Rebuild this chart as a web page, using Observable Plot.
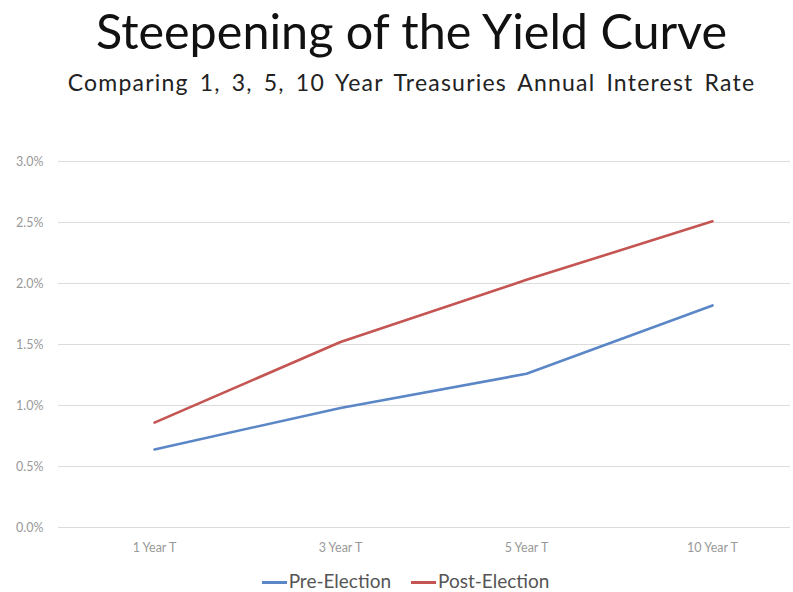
<!DOCTYPE html>
<html>
<head>
<meta charset="utf-8">
<script src="https://cdn.jsdelivr.net/npm/d3@7"></script>
<script src="https://cdn.jsdelivr.net/npm/@observablehq/plot@0.6"></script>
<style>
  html, body { margin: 0; padding: 0; background: #fff; }
  body { width: 793px; height: 592px; overflow: hidden; font-family: Lato, "Open Sans", sans-serif; }
  #title { position: absolute; left: 15px; top: 2px; width: 793px; text-align: center; font-size: 48.5px; color: #111; line-height: 56px; }
  #subtitle { position: absolute; left: 15px; top: 68px; width: 793px; text-align: center; font-size: 23px; color: #222; line-height: 28px; letter-spacing: 1.2px; word-spacing: 4px; }
  #chart { position: absolute; left: 0; top: 120px; }
  #legend { position: absolute; left: 18px; top: 571px; width: 775px; text-align: center; font-size: 19px; color: #555; line-height: 20px; height: 20px; }
  .item { display: inline-block; margin: 0 10px; }
  .sw { display: inline-block; width: 25px; height: 3px; vertical-align: middle; margin-right: 2px; position: relative; top: -1px; }
</style>
</head>
<body>
<div id="title">Steepening of the Yield Curve</div>
<div id="subtitle">Comparing 1, 3, 5, 10 Year Treasuries Annual Interest Rate</div>
<div id="chart"></div>
<div id="legend"></div>
<script>
const categories = ["1 Year T", "3 Year T", "5 Year T", "10 Year T"];
const seriesNames = ["Pre-Election", "Post-Election"];
const preElection = [0.64, 0.98, 1.26, 1.82];
const postElection = [0.86, 1.52, 2.03, 2.51];
const yTicks = [0, 0.5, 1.0, 1.5, 2.0, 2.5, 3.0];
const colors = ["#5b87c7", "#c45552"];

const rows = [];
categories.forEach((c, i) => {
  rows.push({cat: c, series: seriesNames[0], value: preElection[i]});
  rows.push({cat: c, series: seriesNames[1], value: postElection[i]});
});

const chart = Plot.plot({
  width: 793,
  height: 447,
  marginTop: 41,
  marginBottom: 40,
  marginLeft: 58,
  marginRight: 3,
  style: { fontFamily: "Lato, 'Open Sans', sans-serif", fontSize: "12.5px", color: "#999", background: "transparent" },
  x: { type: "point", domain: categories, range: [153, 712], padding: 0, label: null },
  y: { domain: [0, 3], label: null },
  color: { domain: seriesNames, range: colors },
  marks: [
    Plot.ruleY(yTicks, { stroke: "#dcdcdc", strokeWidth: 1.2 }),
    Plot.axisX({ tickSize: 0, tickPadding: 16, fill: "#999" }),
    Plot.axisY({ ticks: yTicks, tickFormat: d => d.toFixed(1) + "%", tickSize: 0, tickPadding: 15, fill: "#999" }),
    Plot.line(rows, { x: "cat", y: "value", z: "series", stroke: "series", strokeWidth: 2.6 })
  ]
});
document.getElementById("chart").appendChild(chart);

const legend = document.getElementById("legend");
seriesNames.forEach((s, i) => {
  const item = document.createElement("span");
  item.className = "item";
  const sw = document.createElement("span");
  sw.className = "sw";
  sw.style.background = colors[i];
  item.appendChild(sw);
  item.appendChild(document.createTextNode(s));
  legend.appendChild(item);
});
</script>
</body>
</html>
